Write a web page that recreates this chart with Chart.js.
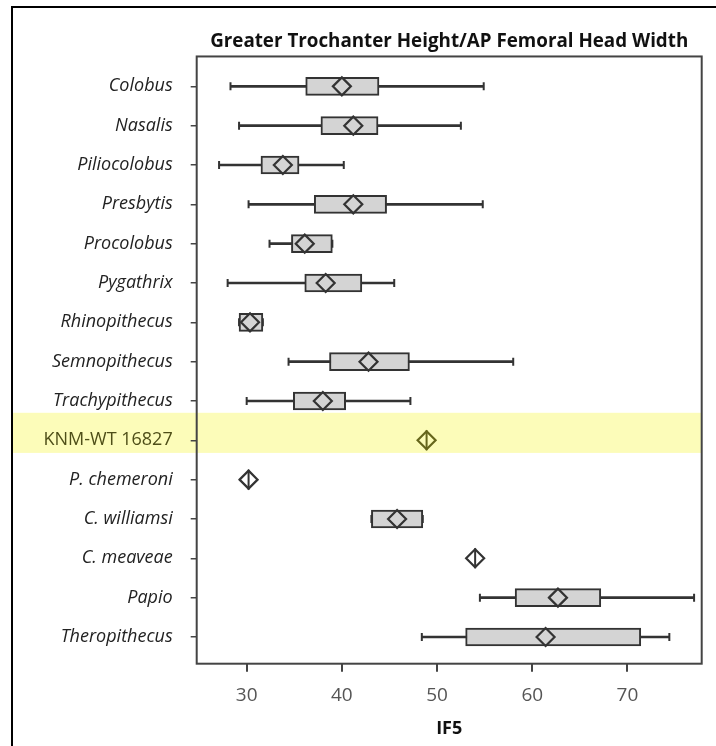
<!DOCTYPE html>
<html>
<head>
<meta charset="utf-8">
<script src="https://cdn.jsdelivr.net/npm/chart.js@4.4.0/dist/chart.umd.min.js"></script>
<style>
  html, body { margin: 0; padding: 0; background: #fff; overflow: hidden; }
  #wrap { position: relative; width: 716px; height: 746px; }
  #frame { position: absolute; left: 11px; top: 6px; width: 760px; height: 800px;
           border: 2px solid #000; box-sizing: border-box; pointer-events: none; }
</style>
</head>
<body>
<div id="wrap">
  <canvas id="chart" width="716" height="746"></canvas>
  <div id="frame"></div>
</div>
<script>
// IF5 by genus: whisker ends, box edges, means (diamonds), single-specimen medians
const categories = ['Colobus', 'Nasalis', 'Piliocolobus', 'Presbytis', 'Procolobus', 'Pygathrix',
  'Rhinopithecus', 'Semnopithecus', 'Trachypithecus', 'KNM-WT 16827', 'P. chemeroni',
  'C. williamsi', 'C. meaveae', 'Papio', 'Theropithecus'];
const mins   = [28.3, 29.2, 27.1, 30.2, 32.4, 28.0, 29.2, 34.4, 30.0, null, null, 43.1, null, 54.5, 48.4];
const q1s    = [36.2, 37.8, 31.5, 37.1, 34.7, 36.1, 29.2, 38.7, 34.9, null, null, 43.1, null, 58.2, 53.0];
const q3s    = [43.9, 43.8, 35.5, 44.7, 39.0, 42.1, 31.7, 47.1, 40.4, null, null, 48.5, null, 67.2, 71.4];
const maxs   = [54.9, 52.5, 40.2, 54.8, 39.0, 45.5, 31.7, 58.0, 47.2, null, null, 48.5, null, 77.0, 74.4];
const means  = [40.0, 41.2, 33.8, 41.2, 36.1, 38.3, 30.35, 42.8, 38.0, 48.9, 30.2, 45.8, 54.0, 62.7, 61.4];
const medians = [null, null, null, null, null, null, null, null, null, 48.9, 30.2, null, 54.0, null, null];
const xTicks = [30, 40, 50, 60, 70];

const fossil = 'KNM-WT 16827';
const fossilIdx = categories.indexOf(fossil);
const ink = '#333';
const olive = '#66661c';

const rows = categories.map((c, i) => i);
const pts = (arr) => rows.filter(i => arr[i] != null).map(i => ({ x: arr[i], y: i }));

// highlight strip behind the fossil row, plus the plot box outline
const highlight = {
  id: 'highlight',
  beforeDraw(chart) {
    const { ctx, chartArea, scales } = chart;
    const y0 = scales.y.getPixelForValue(fossilIdx - 0.7);
    const y1 = scales.y.getPixelForValue(fossilIdx + 0.32);
    ctx.save();
    ctx.fillStyle = '#fcfcb9';
    ctx.fillRect(13, y0, chartArea.right - 13, y1 - y0);
    ctx.restore();
  },
  afterDatasetsDraw(chart) {
    const { ctx, chartArea: a } = chart;
    ctx.save();
    ctx.strokeStyle = '#444';
    ctx.lineWidth = 2;
    ctx.strokeRect(a.left, a.top, a.right - a.left, a.bottom - a.top);
    ctx.restore();
  }
};

new Chart(document.getElementById('chart'), {
  type: 'bar',
  data: {
    datasets: [
      {
        type: 'scatter',
        label: 'Mean',
        data: rows.map(i => ({ x: means[i], y: i })),
        pointStyle: 'rectRot',
        pointRadius: 9,
        pointBorderWidth: 2.2,
        pointBackgroundColor: 'rgba(0,0,0,0)',
        pointBorderColor: rows.map(i => i === fossilIdx ? olive : ink),
        order: 0
      },
      {
        type: 'scatter',
        label: 'Median',
        data: pts(medians),
        pointStyle: 'line',
        rotation: 90,
        pointRadius: 10,
        pointBorderWidth: 2,
        pointBorderColor: pts(medians).map(p => p.y === fossilIdx ? olive : ink),
        order: 1
      },
      {
        type: 'bar',
        label: 'IQR',
        indexAxis: 'y',
        grouped: false,
        data: rows.filter(i => q1s[i] != null).map(i => ({ y: i, x: [q1s[i], q3s[i]] })),
        barThickness: 18,
        backgroundColor: '#d4d4d4',
        borderColor: ink,
        borderWidth: 2,
        borderSkipped: false,
        order: 2
      },
      {
        type: 'scatter',
        label: 'Whisker ends',
        data: pts(mins).concat(pts(maxs)),
        pointStyle: 'line',
        rotation: 90,
        pointRadius: 4,
        pointBorderWidth: 2,
        pointBorderColor: ink,
        order: 3
      },
      {
        type: 'bar',
        label: 'Range',
        indexAxis: 'y',
        grouped: false,
        data: rows.filter(i => mins[i] != null).map(i => ({ y: i, x: [mins[i], maxs[i]] })),
        barThickness: 2,
        backgroundColor: ink,
        borderWidth: 0,
        order: 4
      }
    ]
  },
  plugins: [highlight],
  options: {
    responsive: false,
    animation: false,
    layout: { padding: { left: 0, right: 14.3, top: 0, bottom: 0 } },
    plugins: {
      legend: { display: false },
      tooltip: { enabled: false },
      title: {
        display: true,
        fullSize: false,
        text: 'Greater Trochanter Height/AP Femoral Head Width',
        color: '#111',
        font: { family: 'Open Sans', size: 18.8, weight: 'bold', lineHeight: 1.2 },
        padding: { top: 30.6, bottom: 3.3 }
      }
    },
    scales: {
      x: {
        type: 'linear',
        position: 'bottom',
        offset: false,
        min: 24.75,
        max: 77.8,
        afterFit: s => { s.height = 82.3; },
        afterBuildTicks: s => { s.ticks = xTicks.map(v => ({ value: v })); },
        border: { display: false },
        grid: { offset: false, drawOnChartArea: false, drawTicks: true, tickLength: 8, tickColor: '#444', lineWidth: 2 },
        ticks: { color: '#555', padding: 12.5, font: { family: 'Open Sans', size: 19 } },
        title: {
          display: true,
          text: 'IF5',
          color: '#111',
          font: { family: 'Open Sans', size: 18, weight: 'bold', lineHeight: 1.2 },
          padding: { top: 0, bottom: 6.2 }
        }
      },
      y: {
        type: 'linear',
        position: 'left',
        offset: false,
        reverse: true,
        min: -0.76,
        max: 14.68,
        afterFit: s => { s.width = 196.7; },
        afterBuildTicks: s => { s.ticks = rows.map(i => ({ value: i })); },
        border: { display: false },
        grid: { offset: false, drawOnChartArea: false, drawTicks: true, tickLength: 6, tickColor: '#444', lineWidth: 1.5 },
        ticks: {
          padding: 18,
          color: ctx => ctx.index === fossilIdx ? '#4e4e18' : '#222',
          font: ctx => ({ family: 'Open Sans', size: 18, style: ctx.index === fossilIdx ? 'normal' : 'italic' }),
          callback: v => categories[v]
        }
      }
    }
  }
});
</script>
</body>
</html>
